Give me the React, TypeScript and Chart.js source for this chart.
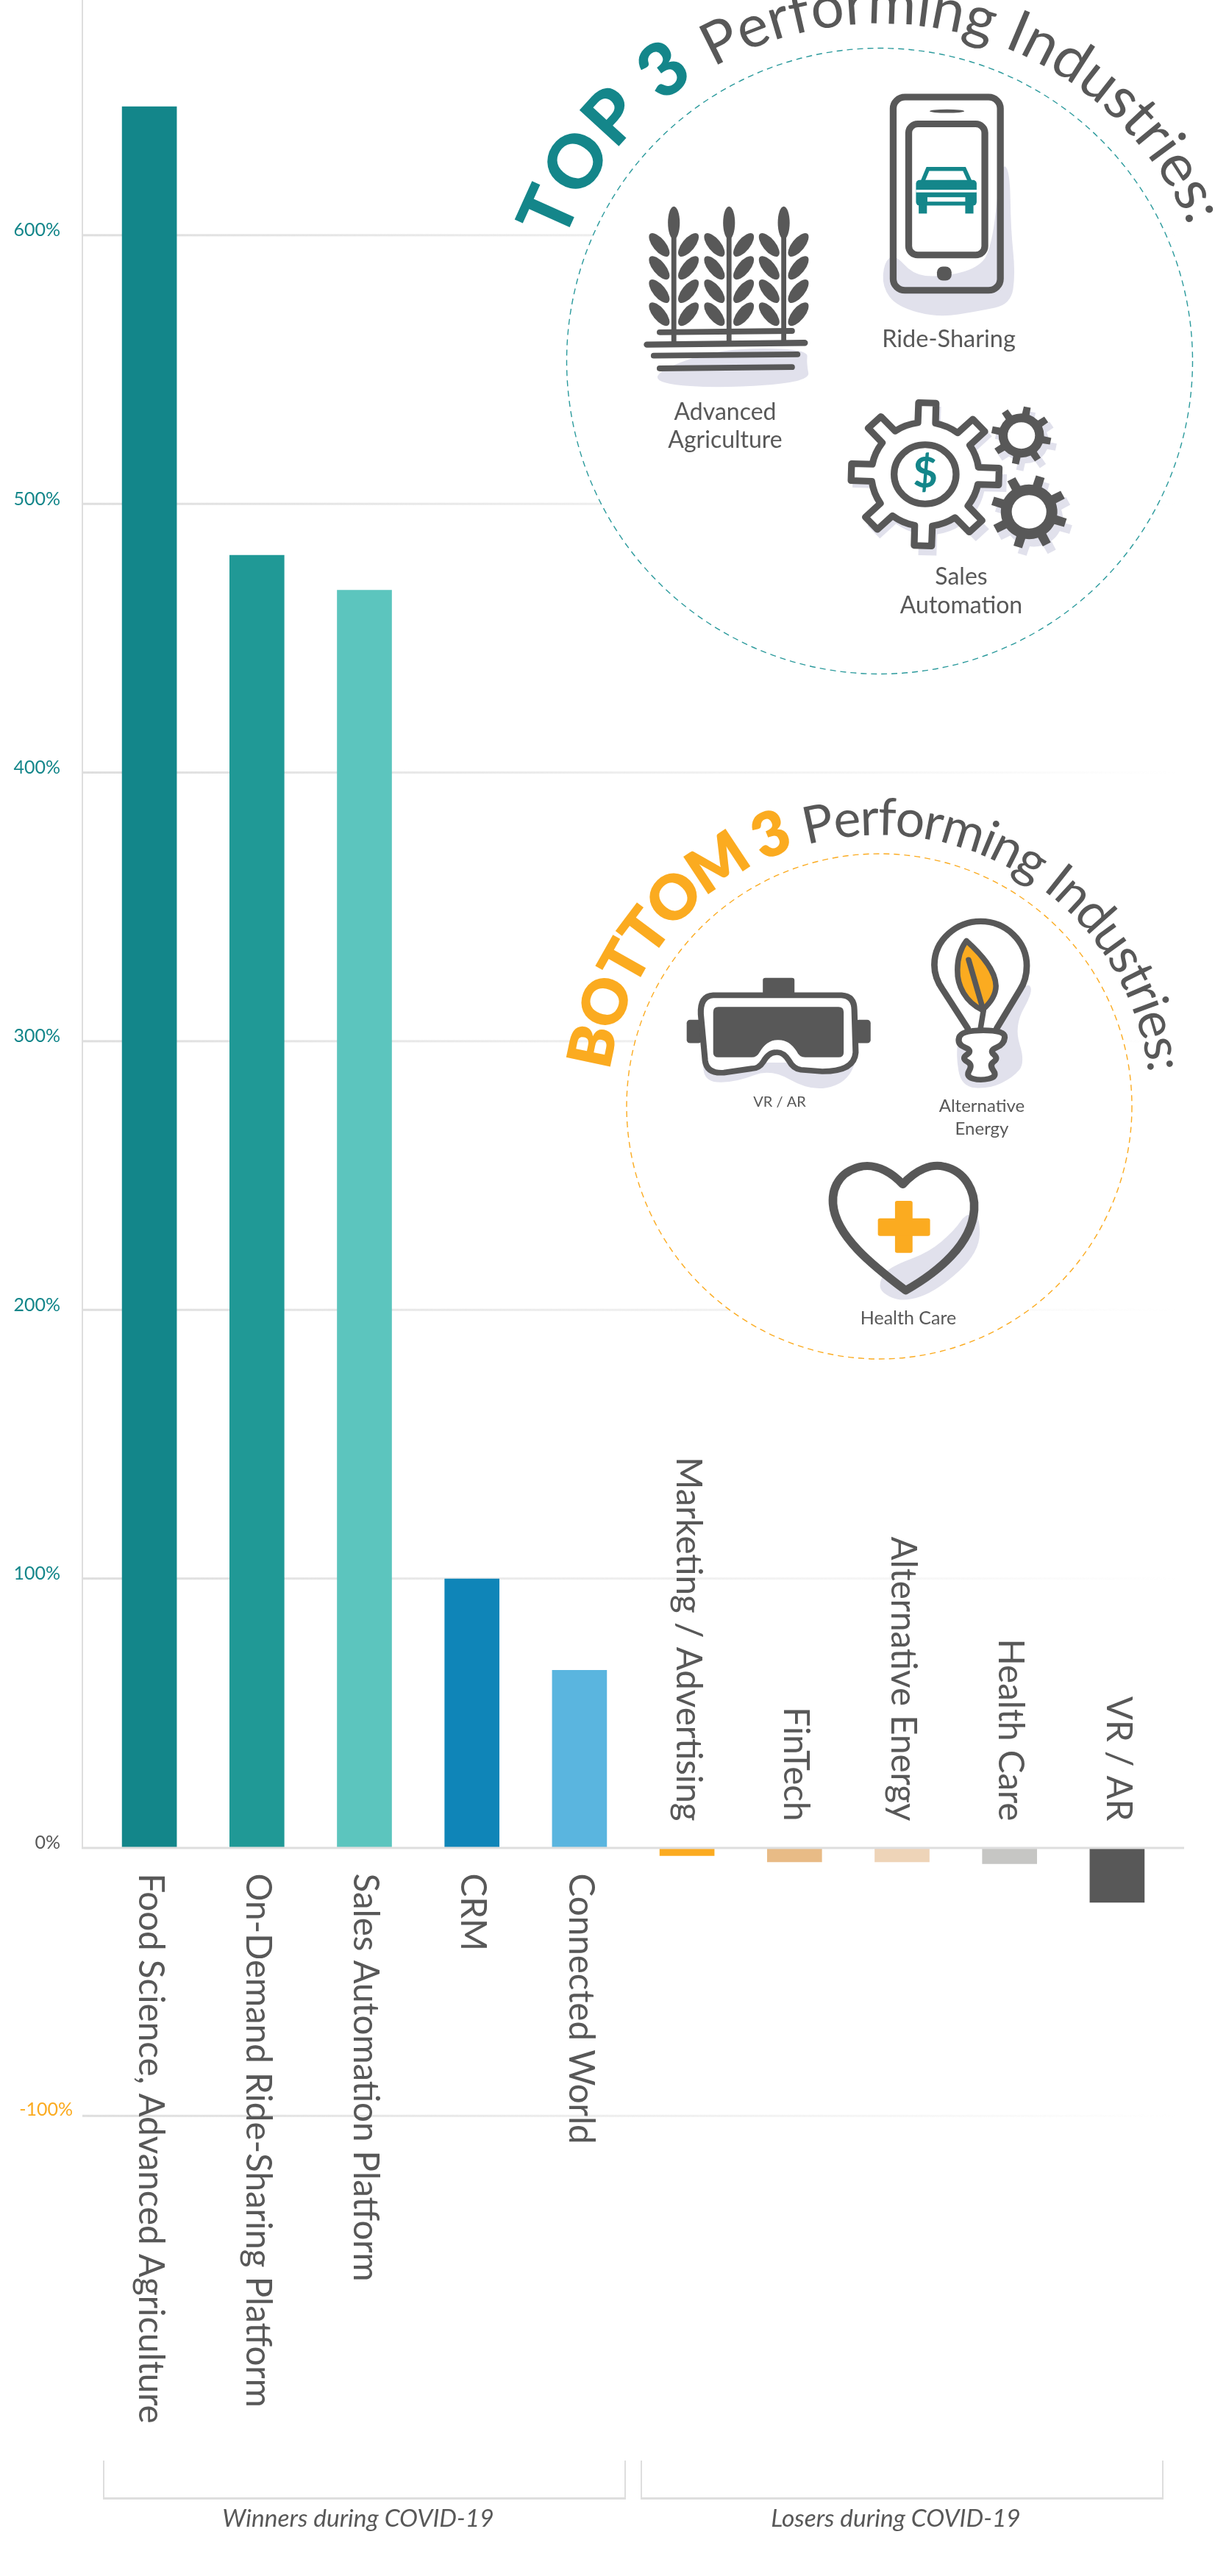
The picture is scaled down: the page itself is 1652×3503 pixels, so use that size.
import React, { useEffect, useRef } from "react";
import { Chart, registerables } from "chart.js";

Chart.register(...registerables);

const categories = [
  "Food Science, Advanced Agriculture",
  "On-Demand Ride-Sharing Platform",
  "Sales Automation Platform",
  "CRM",
  "Connected World",
  "Marketing / Advertising",
  "FinTech",
  "Alternative Energy",
  "Health Care",
  "VR / AR",
];
const changePercent = [648, 481, 468, 100, 66, -3, -5.3, -5.3, -6, -20.4];
const barColors = [
  "#13868a", "#209996", "#5cc5be", "#0f85b8", "#5ab5df",
  "#fbab20", "#e8bb86", "#eed4b8", "#c6c6c4", "#585858",
];
const yTickValues = [-100, 0, 100, 200, 300, 400, 500, 600];
const groupCaptions = ["Winners during COVID-19", "Losers during COVID-19"];

const ZERO_Y = 2512.45;
const PX_PER_UNIT = 3.6535;

const DARK = "#585858";
const TEAL = "#14868a";
const ORANGE = "#fbab20";
const SHADOW = "#e1e1ec";
const FONT = "Lato";

type C = CanvasRenderingContext2D;
type P = [number, number];

function blob(c: C, pts: P[]) {
  c.beginPath();
  const n = pts.length;
  const mid = (a: P, b: P): P => [(a[0] + b[0]) / 2, (a[1] + b[1]) / 2];
  const s = mid(pts[n - 1], pts[0]);
  c.moveTo(s[0], s[1]);
  for (let i = 0; i < n; i++) {
    const m = mid(pts[i], pts[(i + 1) % n]);
    c.quadraticCurveTo(pts[i][0], pts[i][1], m[0], m[1]);
  }
  c.closePath();
}

function rr(c: C, x0: number, y0: number, x1: number, y1: number, r: number) {
  c.beginPath();
  c.roundRect(x0, y0, x1 - x0, y1 - y0, r);
}

function line(c: C, x0: number, y0: number, x1: number, y1: number, w: number) {
  c.lineWidth = w;
  c.lineCap = "round";
  c.beginPath();
  c.moveTo(x0, y0);
  c.lineTo(x1, y1);
  c.stroke();
}

function ell(c: C, x: number, y: number, rx: number, ry: number, rot = 0) {
  c.beginPath();
  c.ellipse(x, y, rx, ry, (rot * Math.PI) / 180, 0, Math.PI * 2);
}

function gearPath(c: C, x: number, y: number, rIn: number, rOut: number, n: number, off: number) {
  c.beginPath();
  const w1 = (Math.PI / n) * 0.42;
  const w2 = (Math.PI / n) * 0.3;
  for (let i = 0; i < n; i++) {
    const a = off + (i * 2 * Math.PI) / n;
    const pt = (r: number, t: number): P => [x + r * Math.cos(t), y + r * Math.sin(t)];
    const p = [pt(rIn, a - w1), pt(rOut, a - w2), pt(rOut, a + w2), pt(rIn, a + w1)];
    if (i === 0) c.moveTo(p[0][0], p[0][1]);
    else c.arc(x, y, rIn, a - (2 * Math.PI) / n + w1, a - w1);
    p.slice(1).forEach((q) => c.lineTo(q[0], q[1]));
  }
  c.arc(x, y, rIn, off + (2 * Math.PI * (n - 1)) / n + w1, off + 2 * Math.PI - w1);
  c.closePath();
}

function arcText(
  c: C, cx: number, cy: number, r: number, text: string, font: string,
  color: string, startDeg: number, endDeg: number
) {
  c.save();
  c.font = font;
  c.fillStyle = color;
  c.textAlign = "center";
  c.textBaseline = "alphabetic";
  const chars = Array.from(text);
  const widths = chars.map((ch) => c.measureText(ch).width);
  const total = widths.reduce((a, b) => a + b, 0);
  const span = ((endDeg - startDeg) * Math.PI) / 180;
  const extra = (span * r - total) / (chars.length - 1);
  let pos = 0;
  chars.forEach((ch, i) => {
    const a = (startDeg * Math.PI) / 180 + (pos + widths[i] / 2) / r;
    c.save();
    c.translate(cx + r * Math.sin(a), cy - r * Math.cos(a));
    c.rotate(a);
    c.fillText(ch, 0, 0);
    c.restore();
    pos += widths[i] + extra;
  });
  c.restore();
}

function centered(c: C, text: string, x: number, y: number, size: number, style = "400") {
  c.font = `${style} ${size}px ${FONT}`;
  c.fillStyle = DARK;
  c.textAlign = "center";
  c.textBaseline = "middle";
  c.fillText(text, x, y);
}

function drawTopIcons(c: C) {
  c.save();
  c.translate(680, 0);
  c.scale(0.62, 0.6);
  c.strokeStyle = DARK;
  c.fillStyle = DARK;

  // wheat
  c.fillStyle = SHADOW;
  blob(c, [[345, 840], [480, 790], [675, 790], [672, 825], [680, 865], [490, 880], [345, 870]]);
  c.fill();
  c.fillStyle = DARK;
  [381, 502, 622].forEach((x) => {
    line(c, x, 520, x, 772, 11);
    ell(c, x, 505, 13, 37);
    c.fill();
    [555, 607, 660, 712].forEach((y) => {
      ell(c, x - 32, y, 32, 14, 52);
      c.fill();
      ell(c, x + 32, y, 32, 14, -52);
      c.fill();
    });
  });
  line(c, 350, 753, 640, 750, 13);
  line(c, 322, 781, 668, 777, 14);
  line(c, 337, 806, 652, 803, 13);
  line(c, 350, 835, 640, 832, 13);

  // phone
  c.fillStyle = SHADOW;
  blob(c, [[1098, 370], [1118, 385], [1120, 520], [1130, 620], [1120, 690], [1050, 705], [960, 720],
    [870, 695], [838, 650], [842, 595], [865, 575], [905, 622], [960, 628], [1040, 612], [1078, 570]]);
  c.fill();
  c.fillStyle = "#ffffff";
  rr(c, 895, 280, 1063, 578, 22);
  c.fill();
  c.strokeStyle = DARK;
  c.lineWidth = 15;
  rr(c, 862, 220, 1097, 658, 26);
  c.stroke();
  c.lineWidth = 15;
  rr(c, 896, 281, 1063, 578, 20);
  c.stroke();
  c.fillStyle = DARK;
  ell(c, 980, 252, 38, 4);
  c.fill();
  rr(c, 958, 604, 990, 636, 13);
  c.fill();

  // car
  c.strokeStyle = TEAL;
  c.fillStyle = TEAL;
  c.lineWidth = 9;
  c.lineCap = "butt";
  c.beginPath();
  c.moveTo(925, 415);
  c.lineTo(938, 383);
  c.lineTo(1018, 383);
  c.lineTo(1032, 415);
  c.stroke();
  rr(c, 912, 408, 1045, 466, 8);
  c.fill();
  c.fillStyle = "#ffffff";
  c.fillRect(912, 430, 133, 6);
  c.fillRect(937, 447, 83, 10);
  c.fillStyle = TEAL;
  c.fillRect(918, 464, 18, 20);
  c.fillRect(1020, 464, 18, 20);

  // gears
  c.fillStyle = SHADOW;
  gearPath(c, 942, 1090, 122, 170, 8, 0.03);
  c.fill();
  gearPath(c, 1153, 1000, 50, 68, 8, 0.2);
  c.fill();
  gearPath(c, 1170, 1175, 64, 86, 8, 0.3);
  c.fill();
  c.fillStyle = "#ffffff";
  c.strokeStyle = DARK;
  c.lineWidth = 15;
  c.lineJoin = "round";
  gearPath(c, 932, 1075, 118, 163, 8, 0.03);
  c.fill();
  c.stroke();
  ell(c, 932, 1075, 68, 67);
  c.stroke();
  c.fillStyle = DARK;
  gearPath(c, 1143, 987, 50, 66, 8, 0.2);
  c.fill();
  gearPath(c, 1160, 1160, 62, 84, 8, 0.3);
  c.fill();
  c.fillStyle = "#ffffff";
  ell(c, 1143, 987, 30, 30);
  c.fill();
  ell(c, 1160, 1160, 38, 38);
  c.fill();
  c.restore();

  c.save();
  c.font = `700 58px ${FONT}`;
  c.fillStyle = TEAL;
  c.textAlign = "center";
  c.textBaseline = "middle";
  c.fillText("$", 1258, 644);
  c.restore();
}

function drawBottomIcons(c: C) {
  c.save();
  c.translate(740, 1050);
  c.scale(0.5816, 0.5485);
  c.lineJoin = "round";
  c.lineCap = "round";

  // goggles
  c.fillStyle = SHADOW;
  blob(c, [[368, 715], [378, 770], [450, 768], [530, 735], [620, 790], [700, 775], [735, 710], [722, 650], [700, 720], [400, 720]]);
  c.fill();
  c.fillStyle = DARK;
  rr(c, 511, 510, 585, 555, 6);
  c.fill();
  rr(c, 333, 614, 368, 672, 8);
  c.fill();
  rr(c, 728, 614, 763, 672, 8);
  c.fill();
  const goggles = new Path2D(
    "M395 553 L695 553 Q725 555 725 590 L728 695 Q725 742 650 742 L600 738 Q582 735 572 715 Q558 692 540 695 Q525 695 512 718 Q502 735 485 735 L420 745 Q380 748 376 715 L366 600 Q364 555 395 553 Z"
  );
  c.fillStyle = "#ffffff";
  c.fill(goggles);
  c.strokeStyle = DARK;
  c.lineWidth = 14;
  c.stroke(goggles);
  const lens = new Path2D(
    "M407 582 L688 582 Q700 582 700 595 L700 695 Q700 707 688 707 L610 707 Q596 707 590 692 Q572 662 545 664 Q520 664 503 695 Q497 707 485 707 L407 707 Q395 707 395 695 L395 595 Q395 582 407 582 Z"
  );
  c.fillStyle = DARK;
  c.fill(lens);

  // bulb
  c.fillStyle = SHADOW;
  blob(c, [[1125, 520], [1145, 540], [1098, 630], [1125, 720], [1095, 758], [1040, 785], [975, 780], [962, 700], [972, 640], [1060, 630]]);
  c.fill();
  const bulb = new Path2D(
    "M990 635 L932 540 Q912 510 912 478 C912 415 965 370 1020 370 C1080 370 1128 420 1128 480 Q1128 515 1112 540 L1058 635"
  );
  c.fillStyle = "#ffffff";
  c.fill(bulb);
  c.strokeStyle = DARK;
  c.lineWidth = 15;
  c.stroke(bulb);
  const leaf = new Path2D("M987 418 C1020 450 1055 490 1056 530 C1056 555 1040 575 1024 590 C985 570 965 530 966 490 C966 460 975 435 987 418 Z");
  c.fillStyle = ORANGE;
  c.fill(leaf);
  c.lineWidth = 13;
  c.stroke(leaf);
  line(c, 992, 465, 1025, 585, 13);
  line(c, 1027, 590, 1020, 635, 13);
  c.fillStyle = "#ffffff";
  blob(c, [[975, 640], [1078, 640], [1075, 675], [1040, 690], [1062, 710], [1040, 725], [1060, 755], [1020, 765], [985, 755], [1002, 725], [975, 710], [1002, 690], [965, 675]]);
  c.fill();
  c.lineWidth = 14;
  c.stroke();

  // heart
  c.fillStyle = SHADOW;
  blob(c, [[985, 1095], [1018, 1095], [1018, 1190], [920, 1285], [840, 1315], [785, 1290], [785, 1255], [812, 1225], [900, 1190], [960, 1135]]);
  c.fill();
  const heart = new Path2D(
    "M838 1022 C870 985 905 970 935 978 C985 990 1008 1040 1005 1085 C1000 1170 920 1240 845 1285 C770 1225 680 1150 675 1070 C672 1020 700 985 745 977 C780 972 815 995 838 1022 Z"
  );
  c.strokeStyle = DARK;
  c.lineWidth = 20;
  c.stroke(heart);
  c.fillStyle = ORANGE;
  rr(c, 820, 1063, 861, 1192, 5);
  c.fill();
  rr(c, 780, 1106, 902, 1150, 5);
  c.fill();
  c.restore();
}

const decorPlugin = {
  id: "decor",
  beforeDatasetsDraw(chart: any) {
    const c: C = chart.ctx;
    const y = chart.scales.y;
    c.save();
    const grad = c.createLinearGradient(112, 0, 1600, 0);
    grad.addColorStop(0, "rgba(222,222,222,1)");
    grad.addColorStop(1, "rgba(222,222,222,0)");
    yTickValues.forEach((v) => {
      if (v === 0) return;
      const py = y.getPixelForValue(v);
      c.fillStyle = grad;
      c.fillRect(112, py - 2, 1498, 3);
    });
    c.restore();
  },
  afterDatasetsDraw(chart: any) {
    const c: C = chart.ctx;
    const { x, y } = chart.scales;
    const zero = y.getPixelForValue(0);
    c.save();
    c.fillStyle = "#dedede";
    c.fillRect(111, 0, 2, zero + 1);
    c.fillRect(111, zero - 1, 1499, 3);

    // the negative tick label sits further right than the others in the reference
    yTickValues.forEach((v) => {
      if (v >= 0) return;
      c.font = `400 25px ${FONT}`;
      c.fillStyle = ORANGE;
      c.textAlign = "right";
      c.textBaseline = "middle";
      c.fillText(`${v}%`, 99, y.getPixelForValue(v) - 9);
    });

    // category labels
    c.fillStyle = DARK;
    c.font = `400 47.5px ${FONT}`;
    c.textBaseline = "middle";
    categories.forEach((label, i) => {
      const px = x.getPixelForValue(i);
      const below = changePercent[i] >= 0;
      c.save();
      c.translate(px + 1, below ? zero + 35 : zero - 36);
      c.rotate(Math.PI / 2);
      c.textAlign = below ? "left" : "right";
      c.fillText(label, 0, 0);
      c.restore();
    });

    // group brackets
    c.fillStyle = "#dedede";
    [[140, 851], [871, 1582]].forEach(([a, b]) => {
      c.fillRect(a, 3346, 2, 52);
      c.fillRect(b - 2, 3346, 2, 52);
      c.fillRect(a, 3396, b - a, 3);
    });
    centered(c, groupCaptions[0], 487, 3425, 33.5, "italic 400");
    centered(c, groupCaptions[1], 1218, 3425, 33.5, "italic 400");

    // TOP 3 badge
    c.fillStyle = "#ffffff";
    c.beginPath();
    c.arc(1196, 491, 425.5, 0, Math.PI * 2);
    c.fill();
    c.strokeStyle = "#2b9a9c";
    c.lineWidth = 1.4;
    c.setLineDash([8, 6]);
    c.stroke();
    c.setLineDash([]);
    arcText(c, 1196, 491, 459, "TOP 3", `900 100px ${FONT}`, TEAL, -69.5, -33);
    arcText(c, 1196, 491, 459, "Performing Industries:", `400 80px ${FONT}`, DARK, -29.5, 66.5);
    drawTopIcons(c);
    centered(c, "Ride-Sharing", 1290, 462, 32.5);
    centered(c, "Advanced", 986, 561, 32);
    centered(c, "Agriculture", 986, 599, 32);
    centered(c, "Sales", 1307, 785, 32);
    centered(c, "Automation", 1307, 824, 32);

    // BOTTOM 3 badge
    c.fillStyle = "#ffffff";
    c.beginPath();
    c.arc(1195.5, 1504.5, 343.5, 0, Math.PI * 2);
    c.fill();
    c.strokeStyle = ORANGE;
    c.lineWidth = 1.4;
    c.setLineDash([8, 6]);
    c.stroke();
    c.setLineDash([]);
    arcText(c, 1195.5, 1504.5, 369, "BOTTOM 3", `800 84px ${FONT}`, ORANGE, -82.5, -18);
    arcText(c, 1195.5, 1504.5, 369, "Performing Industries:", `400 70px ${FONT}`, DARK, -15.5, 83);
    drawBottomIcons(c);
    centered(c, "VR / AR", 1060, 1499, 20);
    centered(c, "Alternative", 1335, 1504, 24);
    centered(c, "Energy", 1335, 1535, 24);
    centered(c, "Health Care", 1235, 1793, 25);
    c.restore();
  },
};

export default function App() {
  const ref = useRef<HTMLCanvasElement>(null);
  useEffect(() => {
    if (!ref.current) return;
    const chart: any = new Chart(ref.current, {
      type: "bar",
      data: {
        labels: categories,
        datasets: [{
          data: changePercent,
          backgroundColor: barColors,
          barThickness: 74,
          borderWidth: 0,
        }],
      },
      plugins: [decorPlugin],
      options: {
        animation: false,
        responsive: false,
        devicePixelRatio: 1,
        layout: { autoPadding: false, padding: { left: 0, right: 60, top: 28.1, bottom: 625.2 } },
        plugins: { legend: { display: false }, tooltip: { enabled: false } },
        scales: {
          x: { display: false },
          y: {
            min: -100,
            max: 680,
            bounds: "data",
            afterFit: (s: any) => { s.width = 130; },
            afterBuildTicks: (s: any) => { s.ticks = yTickValues.map((value) => ({ value })); },
            grid: { display: false, drawTicks: false },
            border: { display: false },
            ticks: {
              includeBounds: false,
              padding: 48,
              labelOffset: -7,
              font: { family: FONT, size: 25, weight: "400" },
              color: (ctx: any) => (ctx.tick.value > 0 ? TEAL : DARK),
              callback: (v: any) => (v < 0 ? "" : `${v}%`),
            },
          },
        },
      },
    } as any);
    // fit the value range to the plot area the layout actually produced
    const area = chart.chartArea;
    chart.options.scales.y.min = (ZERO_Y - area.bottom) / PX_PER_UNIT;
    chart.options.scales.y.max = (ZERO_Y - area.top) / PX_PER_UNIT;
    chart.update();
    return () => chart.destroy();
  }, []);
  return (
    <canvas
      ref={ref}
      width={1652}
      height={3503}
      style={{ position: "absolute", left: 0, top: 0, display: "block" }}
    />
  );
}
